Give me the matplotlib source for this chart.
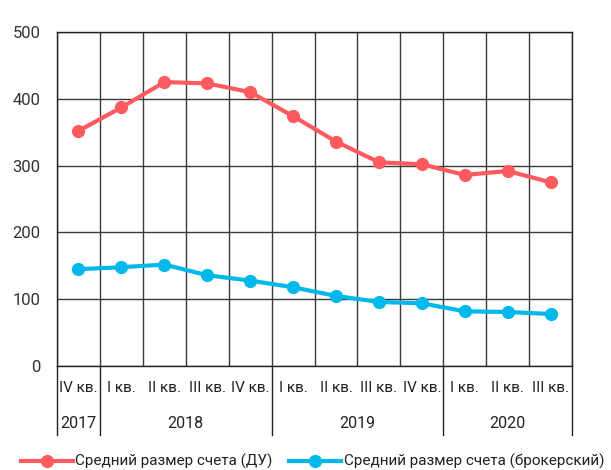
import numpy as np
import matplotlib.pyplot as plt

plt.rcParams['font.family'] = ['Roboto', 'DejaVu Sans']

quarters = ['IV кв.', 'I кв.', 'II кв.', 'III кв.', 'IV кв.',
            'I кв.', 'II кв.', 'III кв.', 'IV кв.',
            'I кв.', 'II кв.', 'III кв.']
years = ['2017', '2018', '2019', '2020']
year_counts = [1, 4, 4, 3]

du = [352, 387, 425, 423, 410, 374, 336, 305, 302, 286, 292, 275]
broker = [145, 148, 152, 136, 128, 118, 105, 96, 94, 82, 81, 78]

red = '#ff5a5f'
blue = '#00b8ea'

fig = plt.figure(figsize=(6.11, 4.70), dpi=100)
ax = fig.add_axes([0.0933, 0.221, 0.843, 0.711])

x = np.arange(len(quarters))
ax.plot(x, du, color=red, lw=3, marker='o', ms=8.5, label='Средний размер счета (ДУ)', zorder=3)
ax.plot(x, broker, color=blue, lw=3, marker='o', ms=8.5, label='Средний размер счета (брокерский)', zorder=3)

ax.set_xlim(-0.5, len(quarters) - 0.5)
ax.set_ylim(0, 500)
ax.set_yticks(range(0, 501, 100))
ax.set_xticks(np.arange(len(quarters) + 1) - 0.5)
ax.set_xticklabels([])
ax.tick_params(length=0, labelsize=12, pad=12, colors='#333333')
ax.grid(True, color='#3a3a3a', lw=1)
ax.set_axisbelow(True)
for s in ax.spines.values():
    s.set_color('#222222')
    s.set_linewidth(1)

# category table under the axis
trans = ax.get_xaxis_transform()
for i, q in enumerate(quarters):
    ax.text(i, -0.066, q, transform=trans, ha='center', va='center', fontsize=11, color='#222222')
start = 0
for y, n in zip(years, year_counts):
    ax.text(start + (n - 1) / 2, -0.171, y, transform=trans, ha='center', va='center', fontsize=11.5, color='#222222')
    ax.plot([start - 0.5, start - 0.5], [0, -0.207], transform=trans, color='#222222', lw=1, clip_on=False)
    start += n
ax.plot([start - 0.5, start - 0.5], [0, -0.207], transform=trans, color='#222222', lw=1, clip_on=False)

fig.legend(loc='lower left', bbox_to_anchor=(0.012, -0.028), ncol=2, frameon=False,
           fontsize=11, handlelength=3.4, handletextpad=0.15, columnspacing=1.1,
           labelcolor='#222222')

fig.savefig('out.png', dpi=100)
